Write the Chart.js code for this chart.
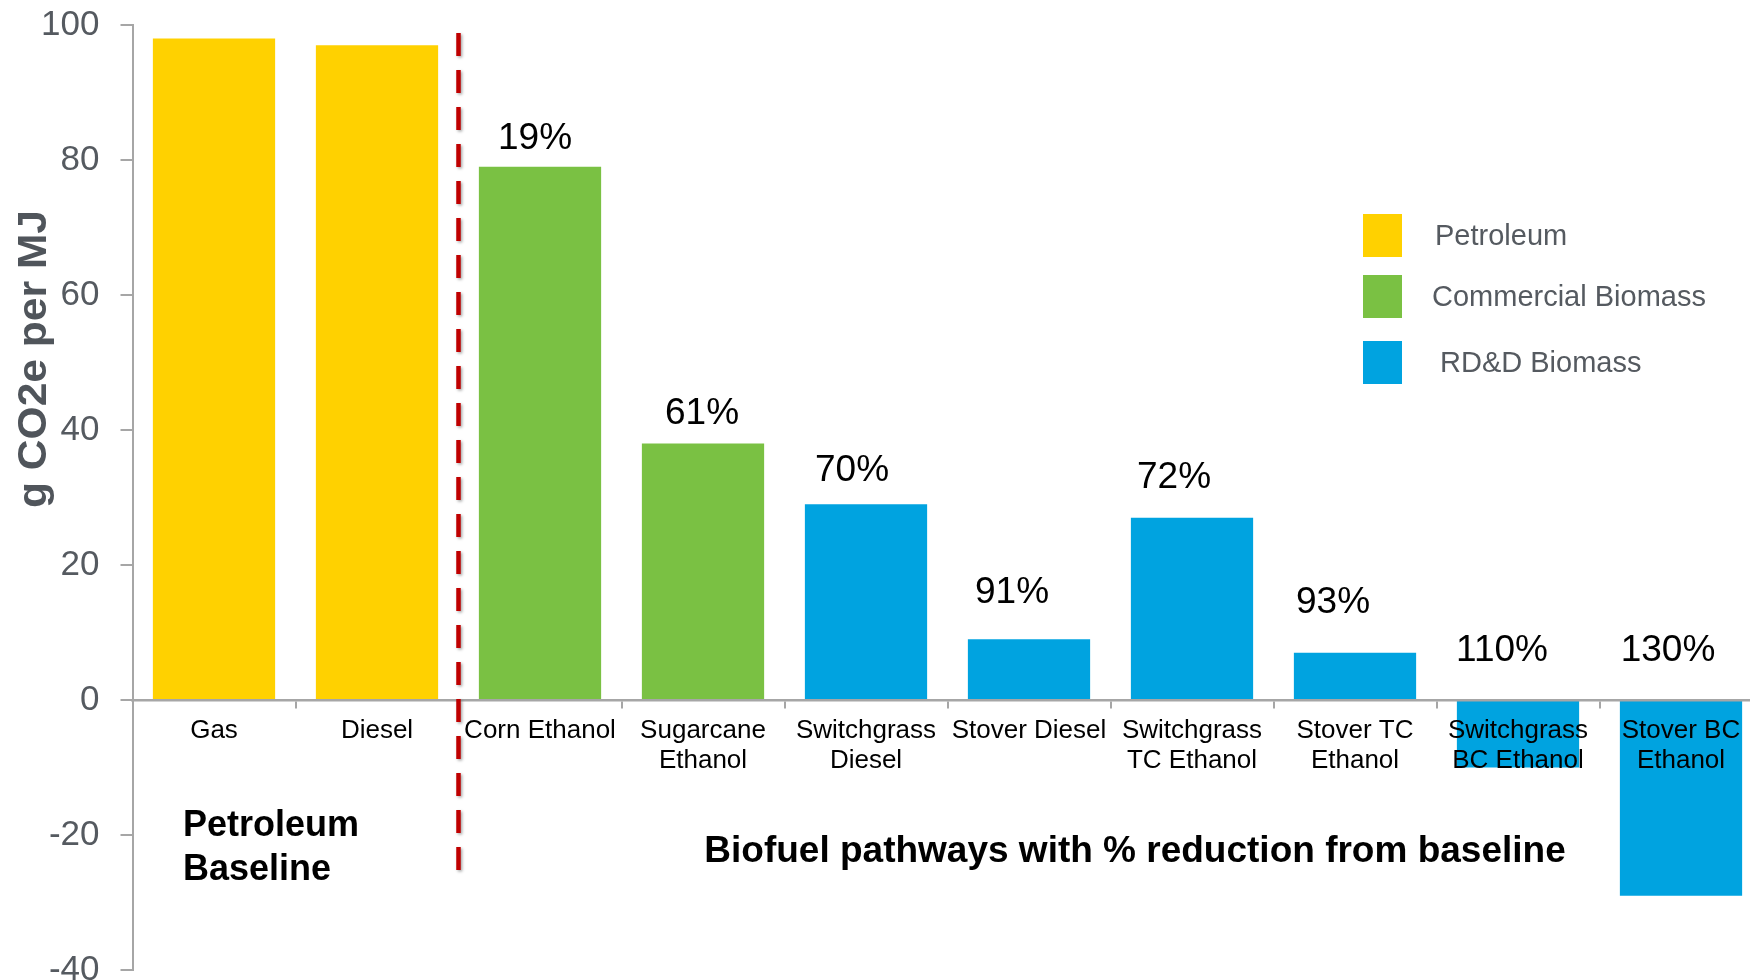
<!DOCTYPE html>
<html><head><meta charset="utf-8">
<script src="https://cdn.jsdelivr.net/npm/chart.js@4.4.1/dist/chart.umd.min.js"></script>
<style>
html,body{margin:0;padding:0;overflow:hidden;background:#fff;width:1750px;height:980px}
#wrap{position:absolute;left:0;top:0;width:1780px;height:1000px}
</style>
</head><body><div id="wrap"><canvas id="c" width="1780" height="1000"></canvas></div>
<script>
// ---- data ----
const categories = [['Gas'], ['Diesel'], ['Corn Ethanol'], ['Sugarcane', 'Ethanol'], ['Switchgrass', 'Diesel'], ['Stover Diesel'], ['Switchgrass', 'TC Ethanol'], ['Stover TC', 'Ethanol'], ['Switchgrass', 'BC Ethanol'], ['Stover BC', 'Ethanol']];
const seriesNames = ['Petroleum', 'Commercial Biomass', 'RD&D Biomass'];
const petroleum = [98, 97, null, null, null, null, null, null, null, null];
const commercialBiomass = [null, null, 79, 38, null, null, null, null, null, null];
const rddBiomass = [null, null, null, null, 29, 9, 27, 7, -10, -29];
const reductionLabels = ['', '', '19%', '61%', '70%', '91%', '72%', '93%', '110%', '130%'];
const yMin = -40, yMax = 100, yStep = 20;
const yTitle = 'g CO2e per MJ';
const baselineNote = ['Petroleum', 'Baseline'];
const biofuelNote = 'Biofuel pathways with % reduction from baseline';

const FONT = "'Liberation Sans', Arial, sans-serif";
const colors = ['#FFD100', '#7AC143', '#00A3E0'];

const annot = {
  id: 'annot',
  afterDraw(chart) {
    const ctx = chart.ctx;
    const xs = chart.scales.x, ys = chart.scales.y;
    // percentage labels
    const dy = [0, 0, 28, 30, 33, 46, 40, 50, 50, 50];
    const dx = [0, 0, -5, -1, -14, -17, -18, -22, -16, -13];
    ctx.save();
    ctx.font = '37px ' + FONT;
    ctx.fillStyle = '#000';
    ctx.textAlign = 'center';
    ctx.textBaseline = 'middle';
    reductionLabels.forEach((t, i) => {
      if (!t) return;
      let el = null;
      chart.data.datasets.forEach((ds, di) => {
        if (ds.data[i] !== null) el = chart.getDatasetMeta(di).data[i];
      });
      if (!el) return;
      const top = Math.min(el.y, el.base);
      ctx.fillText(t, el.x + dx[i], top - dy[i]);
    });
    ctx.restore();

    // dashed divider between Diesel and Corn Ethanol
    const xd = (xs.getPixelForValue(1) + xs.getPixelForValue(2)) / 2;
    ctx.save();
    ctx.strokeStyle = '#C00000';
    ctx.lineWidth = 4.5;
    ctx.setLineDash([23, 14]);
    ctx.shadowColor = 'rgba(0,0,0,0.35)';
    ctx.shadowBlur = 3;
    ctx.shadowOffsetX = 1.5;
    ctx.shadowOffsetY = 1.5;
    ctx.beginPath();
    ctx.moveTo(xd, ys.getPixelForValue(98.8));
    ctx.lineTo(xd, ys.getPixelForValue(-27.2));
    ctx.stroke();
    ctx.restore();

    // notes
    ctx.save();
    ctx.fillStyle = '#000';
    ctx.font = 'bold 36px ' + FONT;
    ctx.textAlign = 'left';
    ctx.textBaseline = 'middle';
    ctx.fillText(baselineNote[0], 183, 826);
    ctx.fillText(baselineNote[1], 183, 870);
    ctx.font = 'bold 37px ' + FONT;
    ctx.textAlign = 'center';
    ctx.fillText(biofuelNote, 1135, 852);
    ctx.restore();

    // y title
    ctx.save();
    ctx.translate(35, 359);
    ctx.rotate(-Math.PI / 2);
    ctx.font = 'bold 41px ' + FONT;
    ctx.fillStyle = '#50555B';
    ctx.textAlign = 'center';
    ctx.textBaseline = 'middle';
    const w = ctx.measureText(yTitle).width;
    ctx.scale(298 / w, 1);
    ctx.fillText(yTitle, 0, 0);
    ctx.restore();

    // legend
    ctx.save();
    const ly = [235.5, 296.5, 362.5];
    const lx = [1435, 1432, 1440];
    ctx.font = '29px ' + FONT;
    ctx.textAlign = 'left';
    ctx.textBaseline = 'middle';
    chart.data.datasets.forEach((ds, i) => {
      ctx.fillStyle = ds.backgroundColor;
      ctx.fillRect(1363, ly[i] - 21.5, 39, 43);
      ctx.fillStyle = '#555A60';
      ctx.fillText(ds.label, lx[i], ly[i] + 1);
    });
    ctx.restore();
  }
};

new Chart(document.getElementById('c'), {
  type: 'bar',
  data: {
    labels: categories,
    datasets: [
      { label: seriesNames[0], data: petroleum, backgroundColor: colors[0] },
      { label: seriesNames[1], data: commercialBiomass, backgroundColor: colors[1] },
      { label: seriesNames[2], data: rddBiomass, backgroundColor: colors[2] }
    ]
  },
  options: {
    responsive: false,
    animation: false,
    devicePixelRatio: 1,
    layout: { padding: { top: 25, left: 0, right: 17.5, bottom: 30 } },
    datasets: { bar: { barPercentage: 0.75, categoryPercentage: 1, borderWidth: 0 } },
    plugins: { legend: { display: false }, tooltip: { enabled: false }, title: { display: false } },
    scales: {
      x: {
        stacked: true,
        position: { y: 0 },
        grid: { display: true, drawOnChartArea: false, drawTicks: true, tickLength: 7, color: '#A6A6A6', lineWidth: 2, offset: true, z: 1 },
        border: { display: true, color: '#A6A6A6', width: 2.5, z: 1 },
        ticks: { z: 1, color: '#000', font: { family: FONT, size: 26, lineHeight: 1.15 }, padding: 9, maxRotation: 0, autoSkip: false }
      },
      y: {
        stacked: true,
        min: yMin, max: yMax,
        afterFit(scale) { scale.width = 132.5; scale.paddingTop = 0; scale.paddingBottom = 0; },
        grid: { display: true, drawOnChartArea: false, drawTicks: true, tickLength: 12, color: '#A6A6A6', lineWidth: 2 },
        border: { display: true, color: '#A6A6A6', width: 2 },
        ticks: { stepSize: yStep, color: '#555A60', font: { family: FONT, size: 35 }, padding: 21 }
      }
    }
  },
  plugins: [annot]
});
</script>
</body></html>
